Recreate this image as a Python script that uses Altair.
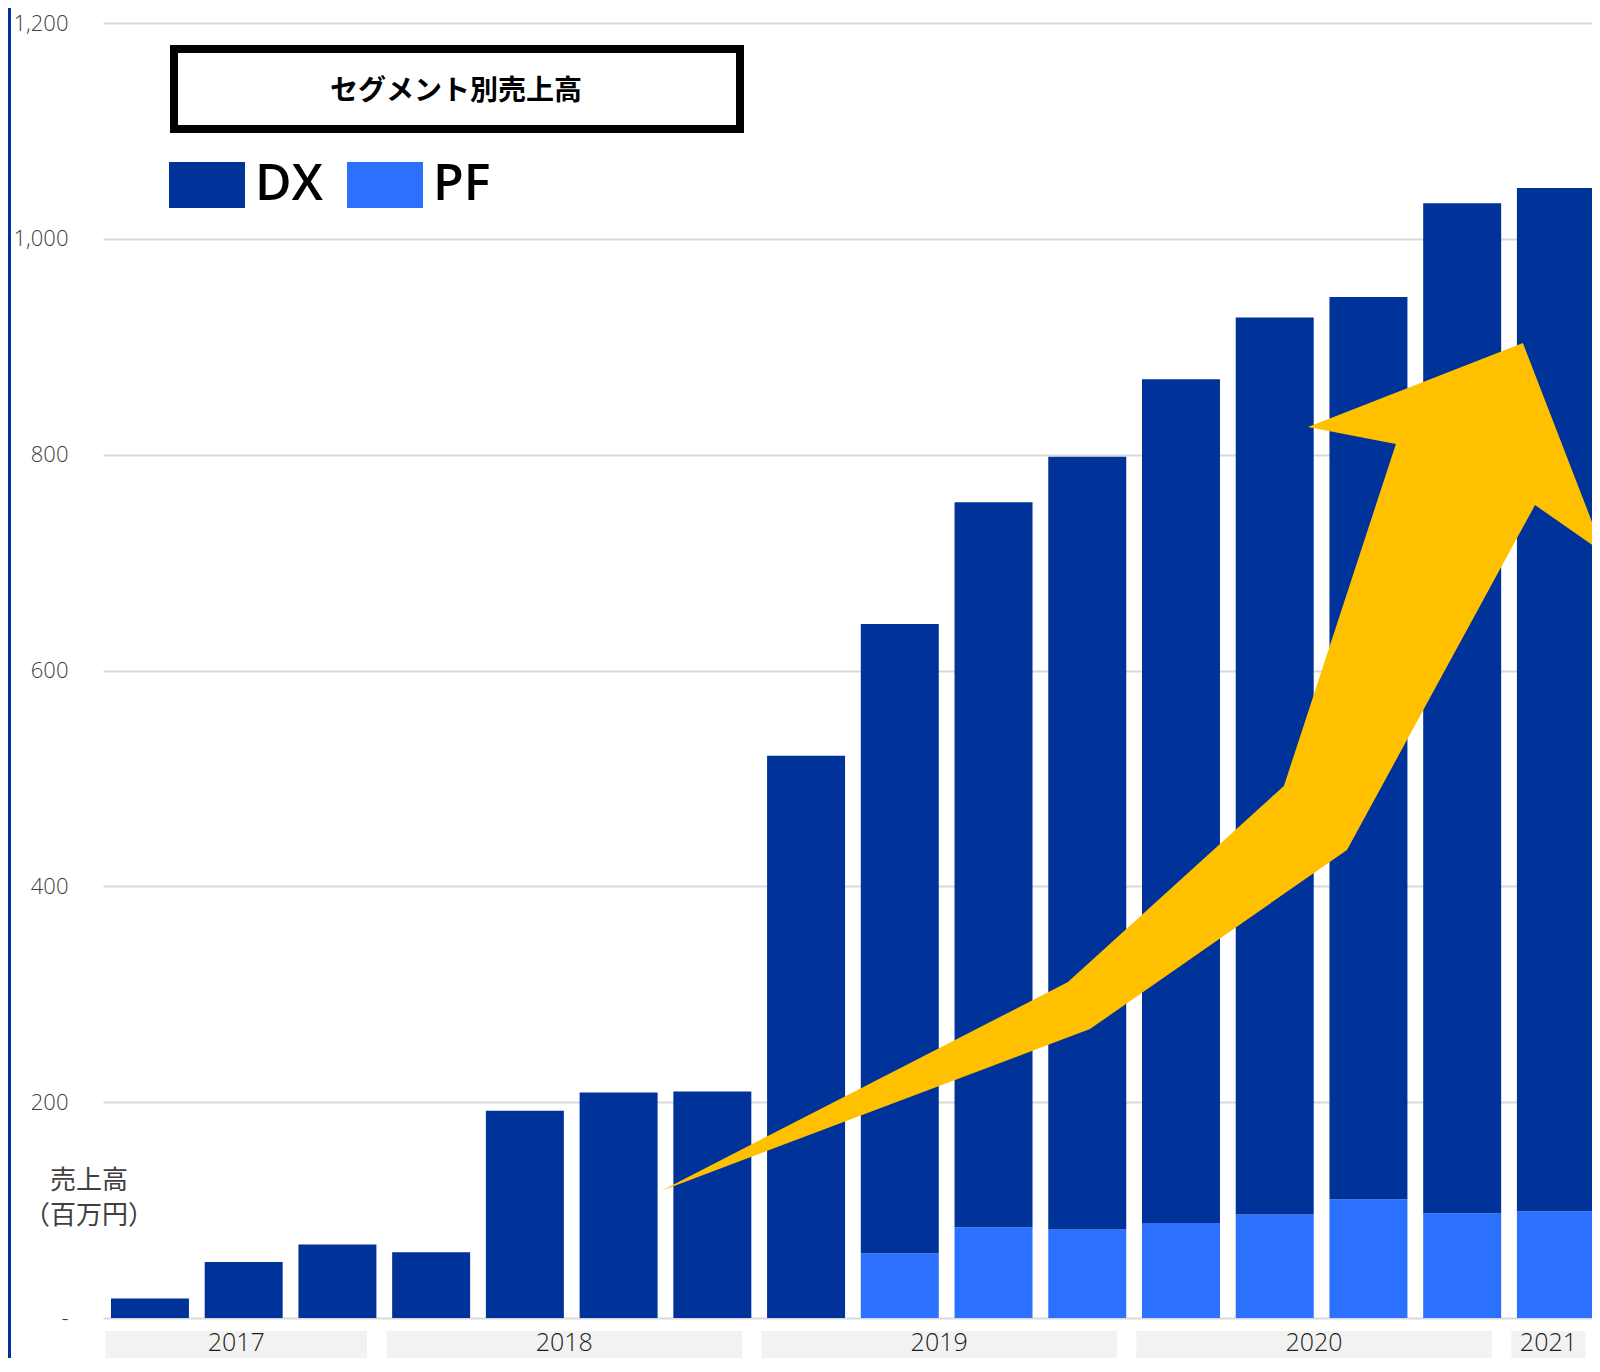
import altair as alt
import pandas as pd

# ---------------- data ----------------
years = ["2017"] * 3 + ["2018"] * 4 + ["2019"] * 4 + ["2020"] * 4 + ["2021"]
dx = [18, 52, 68, 61, 192, 209, 210, 521, 583, 672, 716, 782, 831, 836, 936, 948]
pf = [0, 0, 0, 0, 0, 0, 0, 0, 60, 84, 82, 88, 96, 110, 97, 99]
series = ["DX", "PF"]
series_colors = ["#003399", "#2B70FF"]
y_ticks = [0, 200, 400, 600, 800, 1000, 1200]
title_text = "セグメント別売上高"
unit_text = "売上高\n（百万円）"
# growth arrow outline, in (bar index, sales value) units
arrow_x = [5.452, 9.794, 12.098, 13.293, 12.355, 14.648, 15.513, 14.777, 12.771, 10.029]
arrow_y = [117.7, 311.3, 493.0, 809.9, 825.6, 903.4, 708.9, 753.3, 433.7, 267.8]

# ---------------- layout constants ----------------
W, H = 1489, 1295
STEP_PX = 93.73
HALF = 0.416
X_DOMAIN = [-0.501, -0.501 + W / STEP_PX]
xscale = alt.Scale(domain=X_DOMAIN, nice=False, zero=False)
yscale = alt.Scale(domain=[0, 1200], nice=False, zero=True)
y_axis = alt.Axis(values=y_ticks, grid=True, gridColor="#d9d9d9", gridWidth=2,
                  domain=False, ticks=False, labelPadding=35,
                  labelFontSize=22, labelFont="Open Sans", labelFontWeight=300,
                  labelColor="#404040", title=None,
                  labelExpr="datum.value == 0 ? '-' : format(datum.value, ',')")

rows = []
for i in range(len(dx)):
    if pf[i] > 0:
        rows.append(dict(idx=i, series="PF", y0=0, y1=pf[i], year=years[i]))
    rows.append(dict(idx=i, series="DX", y0=pf[i], y1=pf[i] + dx[i], year=years[i]))
bars_df = pd.DataFrame(rows)
bars_df["xl"] = bars_df["idx"] - HALF
bars_df["xr"] = bars_df["idx"] + HALF

yr_rows = []
for y in sorted(set(years)):
    idxs = [i for i, v in enumerate(years) if v == y]
    bs = min(idxs) - HALF - 0.06
    be = max(idxs) + HALF - 0.1
    yr_rows.append(dict(year=y, bs=bs, be=be, bm=(bs + be) / 2))
years_df = pd.DataFrame(yr_rows)

arrow_df = pd.DataFrame({"ax": arrow_x, "ay": arrow_y, "k": list(range(len(arrow_x)))})

legend = alt.Legend(
    orient="none", legendX=66, legendY=124, direction="horizontal", title=None,
    symbolType="M-1,-0.605H1V0.605H-1Z", symbolSize=5776, symbolStrokeWidth=0,
    symbolOpacity=1, labelFontSize=50, labelFont="Open Sans", labelFontWeight=600,
    labelColor="#000000", labelOffset=10, columnPadding=24, padding=0,
)

bars = alt.Chart(bars_df).mark_bar().encode(
    x=alt.X("xl:Q", scale=xscale, axis=None),
    x2="xr:Q",
    y=alt.Y("y0:Q", scale=yscale, axis=y_axis),
    y2="y1:Q",
    color=alt.Color("series:N", scale=alt.Scale(domain=series, range=series_colors), legend=legend),
)

arrow = alt.Chart(arrow_df).mark_line(
    interpolate="linear-closed", filled=True, color="#FFC000", strokeWidth=0
).encode(
    x=alt.X("ax:Q", scale=xscale, axis=None),
    y=alt.Y("ay:Q", scale=yscale, axis=y_axis),
    order="k:Q",
)

year_boxes = alt.Chart(years_df).mark_rect(color="#f2f2f2").encode(
    x=alt.X("bs:Q", scale=xscale, axis=None),
    x2="be:Q",
    y=alt.value(1308),
    y2=alt.value(1345),
)
year_text = alt.Chart(years_df).mark_text(
    fontSize=25, font="Open Sans", fontWeight=300, color="#1a1a1a", baseline="middle"
).encode(
    x=alt.X("bm:Q", scale=xscale, axis=None),
    y=alt.value(1320),
    text="year:N",
)

one = pd.DataFrame({"t": [title_text], "u": [unit_text]})
stripe = alt.Chart(one).mark_rect(color="#003399").encode(
    x=alt.value(-95), x2=alt.value(-92), y=alt.value(-15), y2=alt.value(H + 60)
)
title_box = alt.Chart(one).mark_rect(fill="white", stroke="black", strokeWidth=8).encode(
    x=alt.value(71), x2=alt.value(637), y=alt.value(26), y2=alt.value(106)
)
title_txt = alt.Chart(one).mark_text(
    fontSize=28, font="Noto Sans CJK JP", fontWeight="bold", color="#000000"
).encode(x=alt.value(353), y=alt.value(69), text="t:N")
unit_txt = alt.Chart(one).mark_text(
    fontSize=26, font="Noto Sans CJK JP", color="#404040", lineBreak="\n", lineHeight=35,
    align="center", baseline="middle"
).encode(x=alt.value(-14), y=alt.value(1158), text="u:N")

chart = alt.layer(
    stripe, bars, arrow, year_boxes, year_text, title_box, title_txt, unit_txt
).properties(
    width=W, height=H,
    autosize=alt.AutoSizeParams(type="none"),
    padding={"left": 95, "top": 15, "right": 0, "bottom": 40},
    background="white",
).configure_view(stroke=None)

chart.save("out.html", embed_options={"renderer": "svg", "actions": False})
